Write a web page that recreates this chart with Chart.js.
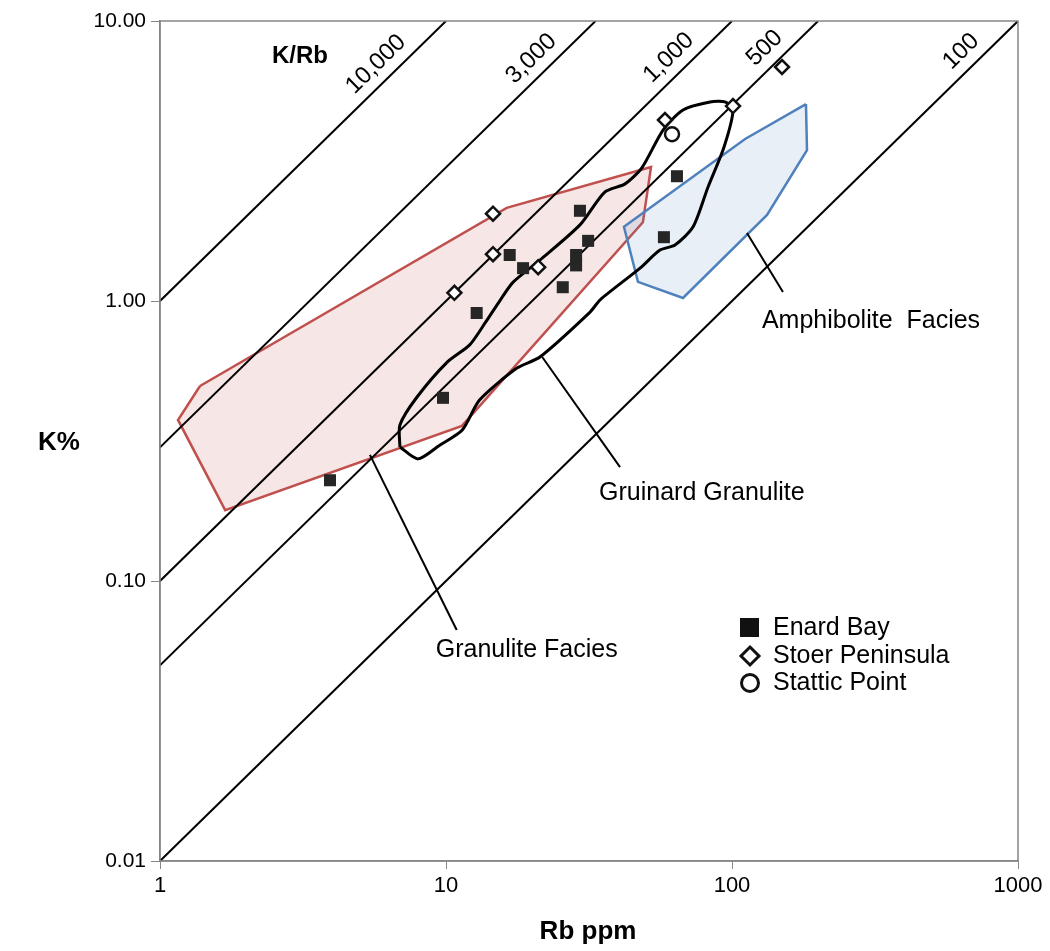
<!DOCTYPE html>
<html>
<head>
<meta charset="utf-8">
<title>K/Rb</title>
<script src="https://cdn.jsdelivr.net/npm/chart.js@4.4.1/dist/chart.umd.min.js"></script>
<style>
  html, body { margin: 0; padding: 0; background: #fff; }
  #wrap { width: 1050px; height: 951px; }
</style>
</head>
<body>
<div id="wrap"><canvas id="krb" width="1050" height="951"></canvas></div>
<script>
// analyses: Rb in ppm, K in %
const enardRb = [3.93, 9.76, 12.8, 16.7, 18.6, 29.4, 31.4, 28.5, 28.5, 25.6, 64.2, 57.8];
const enardK = [0.229, 0.451, 0.906, 1.46, 1.31, 2.10, 1.64, 1.46, 1.34, 1.12, 2.79, 1.69];
const stoerRb = [14.6, 14.6, 10.7, 21.0, 58.3, 100.8, 149.6];
const stoerK = [2.05, 1.47, 1.07, 1.32, 4.43, 4.97, 6.85];
const statticRb = [61.7];
const statticK = [3.94];

// field outlines
const granuliteRb = [1.38, 1.156, 1.69, 11.37, 48.8, 52.1, 16.3];
const granuliteK = [0.497, 0.376, 0.179, 0.358, 1.91, 3.01, 2.15];
const amphiboliteRb = [181.4, 182.9, 132.6, 67.4, 46.9, 41.9, 111.1];
const amphiboliteK = [5.05, 3.46, 2.03, 1.025, 1.17, 1.84, 3.79];
const gruinardRb = [6.90, 6.90, 7.92, 10.1, 12.1, 13.7, 15.5, 17.2, 21.3, 29.4, 35.9, 42.3, 48.4, 57.4, 67.4, 83.8,
  94.5, 100.8, 93.8, 82.4, 73.1, 63.2, 56.0, 47.7, 34.6, 31.9, 21.3, 17.7, 13.1, 11.4, 9.53, 7.98];
const gruinardK = [0.301, 0.361, 0.454, 0.605, 0.697, 0.835, 1.01, 1.17, 1.40, 1.87, 2.45, 2.62, 2.99, 4.08, 4.81, 5.14,
  5.14, 4.81, 3.55, 2.55, 1.84, 1.585, 1.52, 1.31, 1.01, 0.913, 0.631, 0.576, 0.443, 0.346, 0.306, 0.273];

// K/Rb ratio lines, end points in (Rb, K%)
const ratioLabels = ["10,000", "3,000", "1,000", "500", "100"];
const ratioStart = [[1, 1], [1, 0.3], [1, 0.1], [1, 0.05], [1, 0.01]];
const ratioEnd = [[10, 10], [33.33, 10], [100, 10], [200, 10], [1000, 10]];
const ratioLabelRb = [6.3, 22, 66.5, 144, 700];

// leader lines for the field names
const fieldNames = ["Granulite Facies", "Gruinard Granulite", "Amphibolite  Facies"];
const leaderFrom = [[5.42, 0.282], [21.7, 0.631], [112.8, 1.75]];
const leaderTo = [[10.9, 0.0668], [40.6, 0.255], [150.7, 1.077]];
const nameDy = [20, 26, 29];

const xTicks = [1, 10, 100, 1000];
const yTicks = [0.01, 0.1, 1, 10];

const FONT = '"Liberation Sans", Arial, sans-serif';

function toPts(xs, ys, close) {
  var out = xs.map(function (x, i) { return { x: x, y: ys[i] }; });
  if (close) out.push({ x: xs[0], y: ys[0] });
  return out;
}

var datasets = [];

// sample points on top
datasets.push({
  label: "Enard Bay", data: toPts(enardRb, enardK), order: 1,
  pointStyle: "rect", pointRadius: 8.5, backgroundColor: "#262626", borderWidth: 0, showLine: false
});
datasets.push({
  label: "Stoer Peninsula", data: toPts(stoerRb, stoerK), order: 1,
  pointStyle: "rectRot", pointRadius: 7, backgroundColor: "#fff", borderColor: "#111", borderWidth: 2.5, showLine: false
});
datasets.push({
  label: "Stattic Point", data: toPts(statticRb, statticK), order: 1,
  pointStyle: "circle", pointRadius: 7, backgroundColor: "#fff", borderColor: "#111", borderWidth: 2.5, showLine: false
});

datasets.push({
  label: "Gruinard Granulite", data: toPts(gruinardRb, gruinardK, true), order: 2,
  showLine: true, fill: false, borderColor: "#000", borderWidth: 3, pointRadius: 0, tension: 0.25
});

ratioLabels.forEach(function (lbl, i) {
  datasets.push({
    label: "K/Rb " + lbl,
    data: [{ x: ratioStart[i][0], y: ratioStart[i][1] }, { x: ratioEnd[i][0], y: ratioEnd[i][1] }],
    order: 3, showLine: true, fill: false, borderColor: "#000", borderWidth: 2, pointRadius: 0
  });
});

datasets.push({
  label: "Amphibolite Facies", data: toPts(amphiboliteRb, amphiboliteK, true), order: 4,
  showLine: true, fill: "shape", backgroundColor: "rgba(79,129,189,0.13)", borderColor: "#4f81bd",
  borderWidth: 2.5, pointRadius: 0
});
datasets.push({
  label: "Granulite Facies", data: toPts(granuliteRb, granuliteK, true), order: 5,
  showLine: true, fill: "shape", backgroundColor: "rgba(192,80,77,0.14)", borderColor: "#c0504d",
  borderWidth: 2.5, pointRadius: 0
});

// frame, titles, labels and legend
const decor = {
  id: "decor",
  afterDatasetsDraw: function (chart) {
    var ctx = chart.ctx, a = chart.chartArea;
    var xs = chart.scales.x, ys = chart.scales.y;
    ctx.save();

    ctx.strokeStyle = "#868686";
    ctx.lineWidth = 1.5;
    ctx.strokeRect(a.left, a.top, a.right - a.left, a.bottom - a.top);

    ctx.fillStyle = "#000";
    ctx.textBaseline = "middle";

    // ratio labels along each line
    ctx.font = "24px " + FONT;
    ctx.textAlign = "center";
    ratioLabels.forEach(function (lbl, i) {
      var x0 = xs.getPixelForValue(ratioStart[i][0]), y0 = ys.getPixelForValue(ratioStart[i][1]);
      var x1 = xs.getPixelForValue(ratioEnd[i][0]), y1 = ys.getPixelForValue(ratioEnd[i][1]);
      var ang = Math.atan2(y1 - y0, x1 - x0);
      var px = xs.getPixelForValue(ratioLabelRb[i]);
      var py = y0 + (px - x0) * (y1 - y0) / (x1 - x0);
      var d = 18;
      ctx.save();
      ctx.translate(px + Math.sin(ang) * d, py - Math.cos(ang) * d);
      ctx.rotate(ang);
      ctx.fillText(lbl, 0, 0);
      ctx.restore();
    });

    ctx.font = "bold 24px " + FONT;
    ctx.fillText("K/Rb", 300, 56);

    // field names with leader lines
    ctx.strokeStyle = "#000";
    ctx.lineWidth = 2;
    ctx.font = "25px " + FONT;
    ctx.textAlign = "left";
    fieldNames.forEach(function (name, i) {
      var fx = xs.getPixelForValue(leaderFrom[i][0]), fy = ys.getPixelForValue(leaderFrom[i][1]);
      var tx = xs.getPixelForValue(leaderTo[i][0]), ty = ys.getPixelForValue(leaderTo[i][1]);
      ctx.beginPath();
      ctx.moveTo(fx, fy);
      ctx.lineTo(tx, ty);
      ctx.stroke();
      ctx.fillText(name, tx - 21, ty + nameDy[i]);
    });

    // legend
    var lx = 750, rows = [628, 656, 683];
    ctx.fillStyle = "#111";
    ctx.fillRect(lx - 10, rows[0] - 10, 19, 19);
    ctx.lineWidth = 3;
    ctx.strokeStyle = "#111";
    ctx.beginPath();
    ctx.moveTo(lx, rows[1] - 9);
    ctx.lineTo(lx + 9, rows[1]);
    ctx.lineTo(lx, rows[1] + 9);
    ctx.lineTo(lx - 9, rows[1]);
    ctx.closePath();
    ctx.stroke();
    ctx.beginPath();
    ctx.arc(lx, rows[2], 8.5, 0, Math.PI * 2);
    ctx.stroke();
    ctx.fillStyle = "#000";
    ctx.font = "25px " + FONT;
    ctx.fillText("Enard Bay", 773, rows[0]);
    ctx.fillText("Stoer Peninsula", 773, rows[1]);
    ctx.fillText("Stattic Point", 773, rows[2]);

    // axis titles
    ctx.font = "bold 26px " + FONT;
    ctx.textAlign = "center";
    ctx.fillText("Rb ppm", 588, 932);
    ctx.fillText("K%", 59, 443);

    ctx.restore();
  }
};

new Chart(document.getElementById("krb"), {
  type: "scatter",
  data: { datasets: datasets },
  options: {
    responsive: false,
    animation: false,
    events: [],
    layout: { padding: { top: 21, right: 32, bottom: 0, left: 0 } },
    plugins: { legend: { display: false }, tooltip: { enabled: false } },
    scales: {
      x: {
        type: "logarithmic", min: 1, max: 1000,
        afterBuildTicks: function (s) { s.ticks = xTicks.map(function (v) { return { value: v }; }); },
        afterFit: function (s) { s.height = 90; },
        grid: { drawOnChartArea: false, drawTicks: true, tickLength: 8, color: "#868686" },
        border: { display: true, color: "#868686", width: 1.5 },
        ticks: {
          autoSkip: false, maxRotation: 0, padding: 4, color: "#000",
          font: { family: FONT, size: 22 },
          callback: function (v) { return String(v); }
        }
      },
      y: {
        type: "logarithmic", min: 0.01, max: 10,
        afterBuildTicks: function (s) { s.ticks = yTicks.map(function (v) { return { value: v }; }); },
        afterFit: function (s) { s.width = 160; },
        grid: { drawOnChartArea: false, drawTicks: true, tickLength: 9, color: "#868686" },
        border: { display: true, color: "#868686", width: 1.5 },
        ticks: {
          autoSkip: false, padding: 5, color: "#000",
          font: { family: FONT, size: 21 },
          callback: function (v) { return Number(v).toFixed(2); }
        }
      }
    }
  },
  plugins: [decor]
});
</script>
</body>
</html>
